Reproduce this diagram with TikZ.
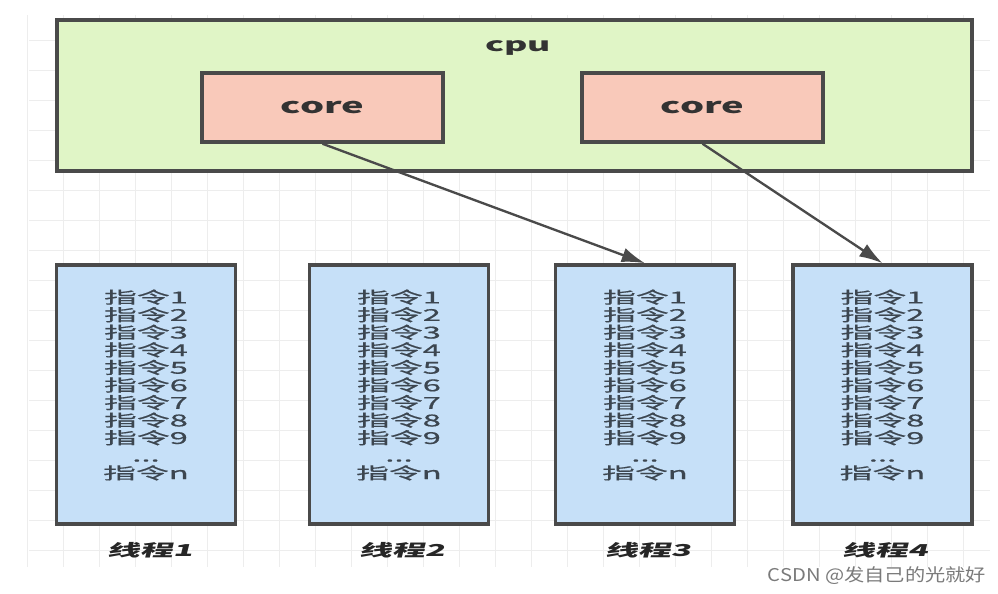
\documentclass[tikz,border=0pt]{standalone}
\usepackage{fontspec}
\setmainfont{Noto Sans CJK SC}
\usetikzlibrary{arrows.meta,positioning}
\definecolor{Edge}{HTML}{4A4A4A}
\definecolor{CpuGreen}{HTML}{E0F5C6}
\definecolor{CorePink}{HTML}{F9C9BA}
\definecolor{ThreadBlue}{HTML}{C6E0F8}
\definecolor{GridGray}{HTML}{EDEDED}
\definecolor{Ink}{HTML}{333333}
\definecolor{ListInk}{HTML}{3C4650}
\definecolor{Mark}{HTML}{7A7A7A}
\newfontfamily\listfont[FakeStretch=2.0,FakeBold=0.8]{Noto Sans CJK SC}
\newfontfamily\corefont[FakeStretch=1.8]{Noto Sans CJK SC}
\newfontfamily\cpufont[FakeStretch=1.9]{Noto Sans CJK SC}
\newfontfamily\tnamefont[FakeStretch=2.0,FakeSlant=0.25]{Noto Sans CJK SC}
\newfontfamily\markfont[FakeStretch=1.15]{Noto Sans CJK SC}
\newcommand{\zhiling}{指令1\\指令2\\指令3\\指令4\\指令5\\指令6\\指令7\\指令8\\指令9\\...\\指令n}

\begin{document}
\begin{tikzpicture}[
  x=0.03cm,y=-0.03cm,
  gridline/.style={draw=GridGray,line width=0.6pt},
  cpubox/.style={draw=Edge,line width=3pt,fill=CpuGreen,minimum width=27.45cm,minimum height=4.53cm,inner sep=0pt},
  cpulabel/.style={font=\cpufont\bfseries\fontsize{16}{18}\selectfont,text=Ink},
  corebox/.style={draw=Edge,line width=3pt,fill=CorePink,minimum width=7.23cm,minimum height=2.07cm,font=\corefont\bfseries\fontsize{18}{20}\selectfont,text=Ink},
  threadbox/.style={draw=Edge,line width=3pt,fill=ThreadBlue,minimum width=5.37cm,minimum height=7.77cm},
  instr/.style={align=center,inner sep=0pt,font=\listfont\fontsize{14}{15}\selectfont,text=ListInk},
  tname/.style={font=\tnamefont\bfseries\fontsize{14}{16}\selectfont,text=black!85},
  marktext/.style={font=\markfont\fontsize{15}{17}\selectfont,text=Mark},
  arrow/.style={-{Latex[length=7mm,width=4.4mm]},line width=2pt,draw=Edge}
]
\useasboundingbox (0,0) rectangle (998,594);
% background grid
\foreach \gx in {27,63,...,963} \draw[gridline] (\gx,15) -- (\gx,567);
\foreach \gy in {40,70,...,550} \draw[gridline] (29,\gy) -- (990,\gy);

\node[cpubox] (cpu) at (514.5,95.5) {};
\node[cpulabel] (cpuname) at (518,48) {cpu};
\node[corebox] (c1) at (322.5,107.5) {core};
\node[corebox] (c2) at (702.5,107.5) {core};

\node[threadbox] (th1) at (146,394.5) {};
\node[threadbox] (th2) at (399,394.5) {};
\node[threadbox] (th3) at (645,394.5) {};
\node[threadbox] (th4) at (882.5,394.5) {};
\node[instr] (l1) at (146,385) {\zhiling};
\node[instr] (l2) at (399,385) {\zhiling};
\node[instr] (l3) at (645,385) {\zhiling};
\node[instr] (l4) at (882.5,385) {\zhiling};
\node[tname] (n1) at (150,550) {线程1};
\node[tname] (n2) at (402,550) {线程2};
\node[tname] (n3) at (648,550) {线程3};
\node[tname] (n4) at (885,550) {线程4};

\draw[arrow] (c1.south) -- (th3.north);
\draw[arrow] (c2.south) -- (th4.north);

\node[marktext] (mark) at (877,576) {CSDN @发自己的光就好};
\end{tikzpicture}
\end{document}
